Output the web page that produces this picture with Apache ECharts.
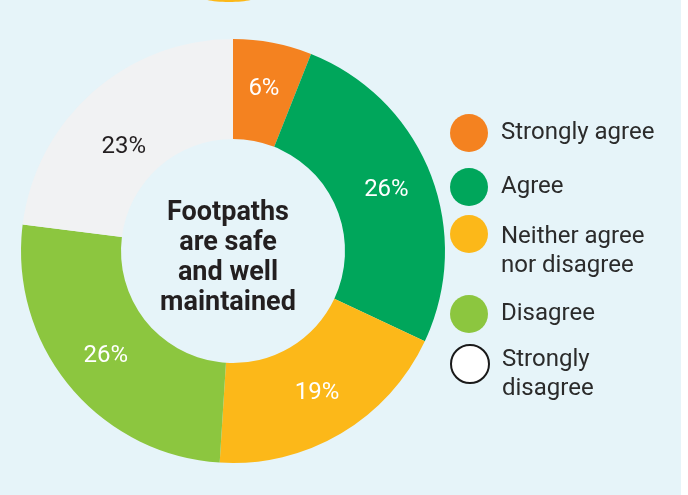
<!DOCTYPE html>
<html>
<head>
<meta charset="utf-8">
<script src="https://cdn.jsdelivr.net/npm/echarts@6/dist/echarts.min.js"></script>
<style>
  html, body { margin: 0; padding: 0; background: #ffffff; }
  #chart { width: 688px; height: 495px; }
</style>
</head>
<body>
<div id="chart"></div>
<script>
// Survey responses: "Footpaths are safe and well maintained"
const categories = ['Strongly agree', 'Agree', 'Neither agree nor disagree', 'Disagree', 'Strongly disagree'];
const shares = [6, 26, 19, 26, 23];
const sliceColors = ['#f48220', '#00a65b', '#fcb819', '#8cc63f', '#f1f2f3'];
const labelColors = ['#ffffff', '#ffffff', '#ffffff', '#ffffff', '#231f20'];
const legendLines = [['Strongly agree'], ['Agree'], ['Neither agree', 'nor disagree'], ['Disagree'], ['Strongly', 'disagree']];
const centerTitle = 'Footpaths\nare safe\nand well\nmaintained';

// vertical placement of each legend marker (centre y) and, for two-line
// entries, the height of a blank spacer line that shifts the text down
const legendCentres = [133, 187, 234, 314, 364];
const spacerHeights = [0, 0, 35, 0, 21];
const LINE_H = 29;

const chart = echarts.init(document.getElementById('chart'));

const legends = categories.map((name, i) => {
  const lines = legendLines[i].map(t => '{t|' + t + '}');
  let top = legendCentres[i] - 19;
  if (spacerHeights[i]) {
    lines.unshift('{g| }');
    top = legendCentres[i] - (spacerHeights[i] + LINE_H * legendLines[i].length) / 2;
  }
  return {
    data: [i === 4
      ? { name, itemStyle: { color: '#ffffff', borderColor: '#1a1a1a', borderWidth: 2 } }
      : { name }],
    left: 450,
    top: top,
    padding: 0,
    orient: 'vertical',
    icon: 'circle',
    itemWidth: 38,
    itemHeight: 38,
    itemGap: 0,
    selectedMode: false,
    formatter: () => lines.join('\n'),
    textStyle: {
      fontFamily: 'Roboto',
      fontSize: 24,
      color: '#2b2b2b',
      padding: [0, 0, 0, 8],
      rich: {
        t: { fontFamily: 'Roboto', fontSize: 24, color: '#2b2b2b', lineHeight: LINE_H },
        g: { fontSize: 2, lineHeight: spacerHeights[i] || 1, height: spacerHeights[i] || 1 }
      }
    }
  };
});

chart.setOption({
  backgroundColor: '#ffffff',
  animation: false,
  graphic: [
    { type: 'rect', z: -10, shape: { x: 0, y: 0, width: 681, height: 495 }, style: { fill: '#e6f4f9' } },
    { type: 'ellipse', z: -5, shape: { cx: 229, cy: -3, rx: 27, ry: 5 }, style: { fill: '#fcb819' } },
    {
      type: 'text',
      x: 228,
      y: 258.5,
      style: {
        text: centerTitle,
        align: 'center',
        verticalAlign: 'middle',
        fontFamily: 'Roboto',
        fontWeight: 'bold',
        fontSize: 27,
        lineHeight: 30,
        fill: '#231f20'
      }
    }
  ],
  legend: legends,
  series: [{
    type: 'pie',
    center: [233, 251],
    radius: [112, 212],
    startAngle: 90,
    clockwise: true,
    silent: true,
    itemStyle: { borderWidth: 0 },
    label: {
      position: 'inside',
      fontFamily: 'Roboto',
      fontSize: 24,
      formatter: p => p.value + '%'
    },
    labelLine: { show: false },
    data: categories.map((name, i) => ({
      name,
      value: shares[i],
      itemStyle: { color: sliceColors[i] },
      label: i === 4 ? { color: labelColors[i], offset: [0, 20] } : { color: labelColors[i] }
    }))
  }]
});
</script>
</body>
</html>
